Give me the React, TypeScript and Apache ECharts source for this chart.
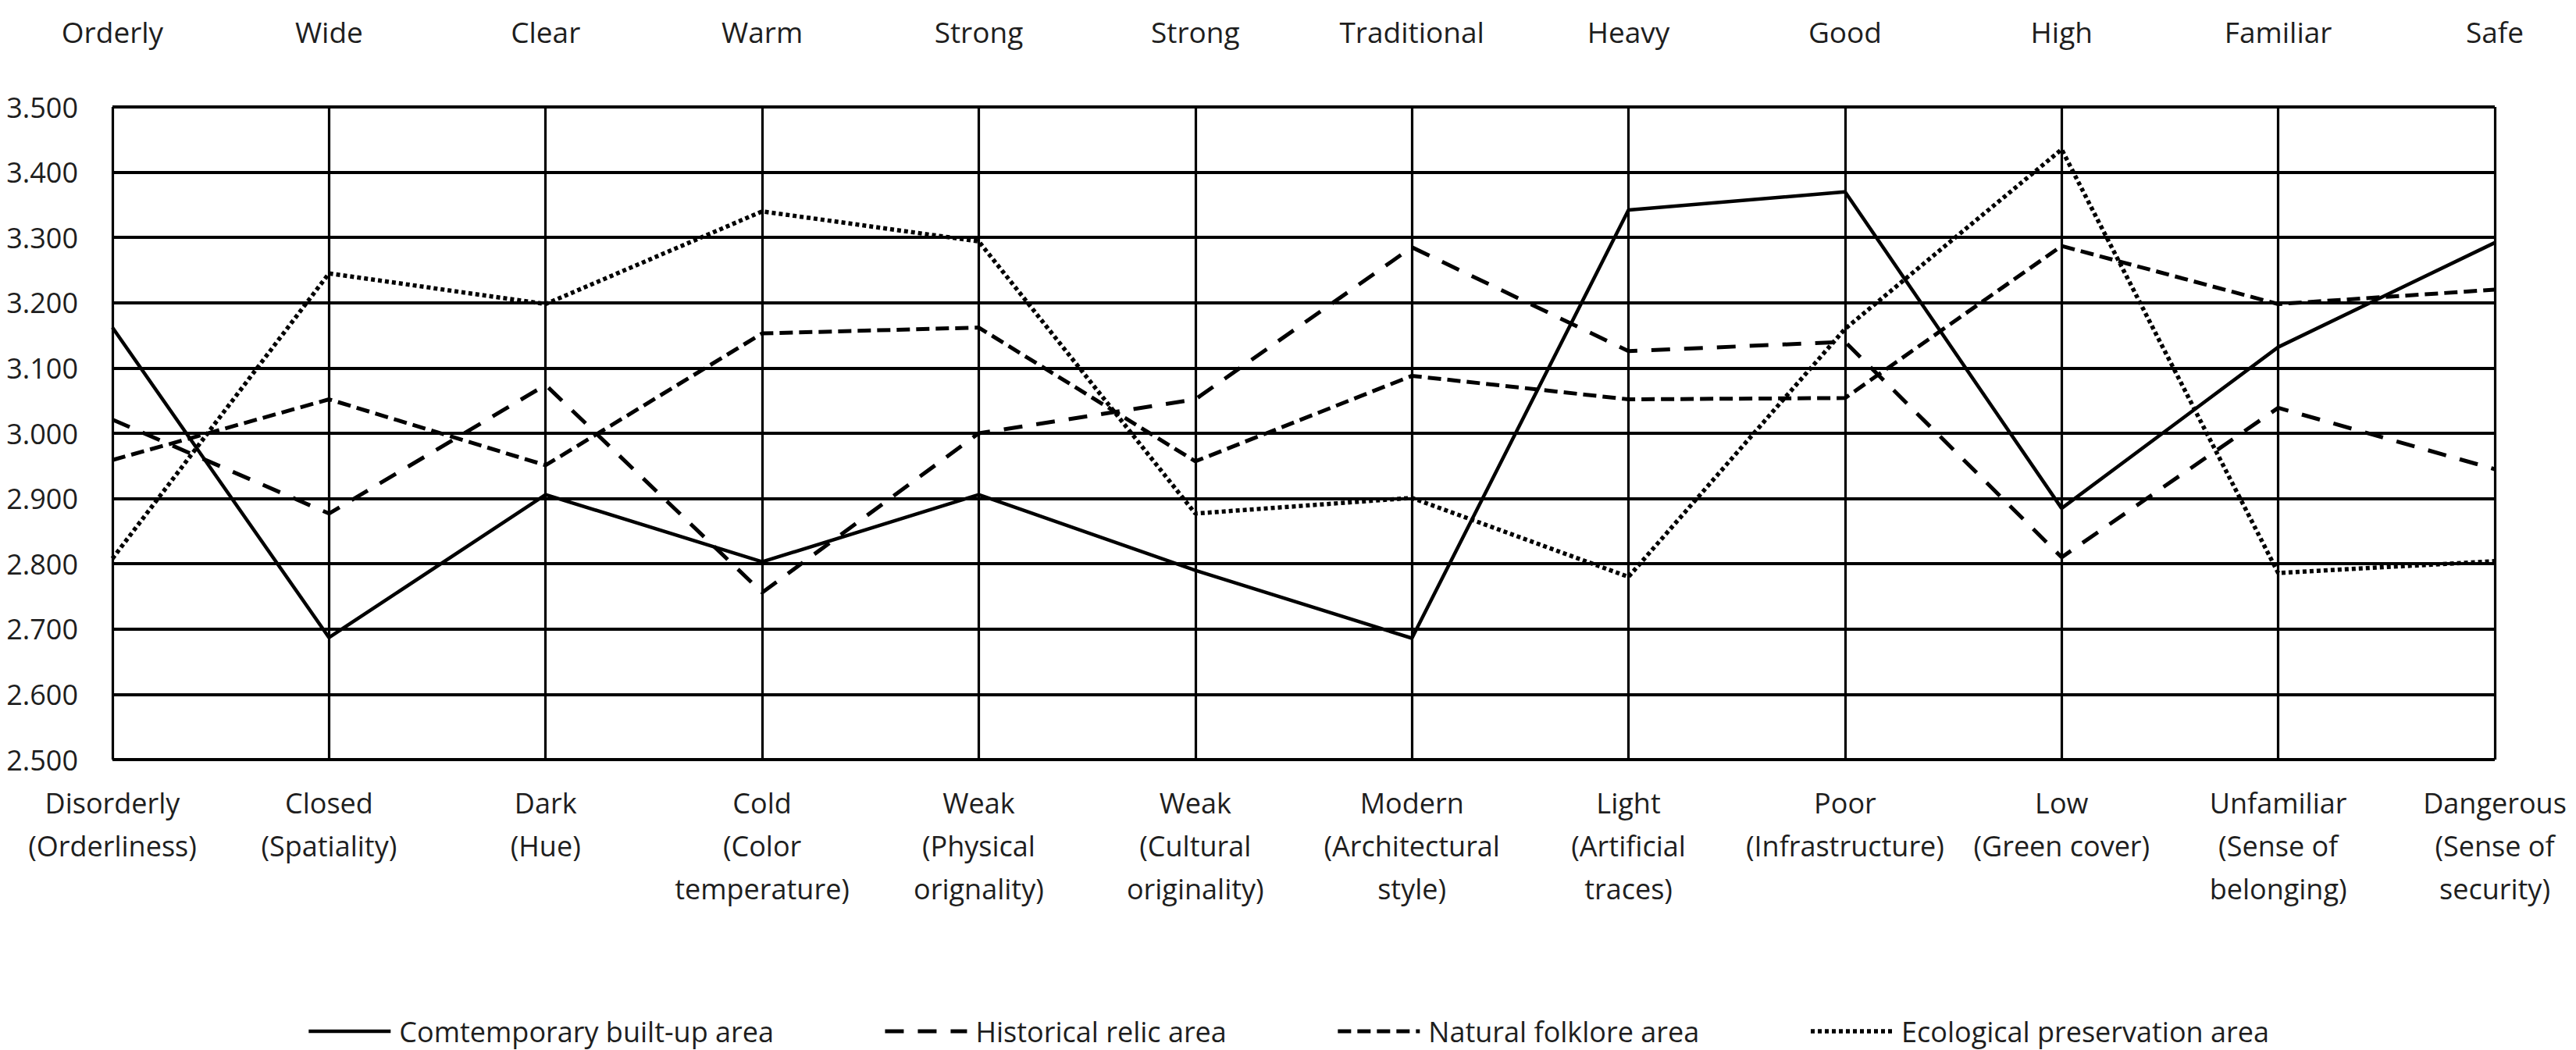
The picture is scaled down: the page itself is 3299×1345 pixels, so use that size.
import React, { useEffect, useRef } from "react";
import * as echarts from "echarts";

// Negative pole (bottom) labels, one array of lines per category
const lowPoles: string[][] = [
  ["Disorderly", "(Orderliness)"],
  ["Closed", "(Spatiality)"],
  ["Dark", "(Hue)"],
  ["Cold", "(Color", "temperature)"],
  ["Weak", "(Physical", "orignality)"],
  ["Weak", "(Cultural", "originality)"],
  ["Modern", "(Architectural", "style)"],
  ["Light", "(Artificial", "traces)"],
  ["Poor", "(Infrastructure)"],
  ["Low", "(Green cover)"],
  ["Unfamiliar", "(Sense of", "belonging)"],
  ["Dangerous", "(Sense of", "security)"],
];

// Positive pole (top) labels
const highPoles: string[] = [
  "Orderly", "Wide", "Clear", "Warm", "Strong", "Strong",
  "Traditional", "Heavy", "Good", "High", "Familiar", "Safe",
];

const yMin = 2.5;
const yMax = 3.5;
const yStep = 0.1;

const seriesNames = [
  "Comtemporary built-up area",
  "Historical relic area",
  "Natural folklore area",
  "Ecological preservation area",
];

const contemporary = [3.162, 2.687, 2.906, 2.803, 2.906, 2.790, 2.686, 3.342, 3.370, 2.885, 3.132, 3.292];
const historical = [3.021, 2.877, 3.074, 2.756, 3.000, 3.052, 3.285, 3.126, 3.140, 2.810, 3.039, 2.945];
const natural = [2.959, 3.052, 2.951, 3.153, 3.162, 2.957, 3.088, 3.052, 3.054, 3.287, 3.198, 3.220];
const ecological = [2.808, 3.245, 3.198, 3.340, 3.294, 2.877, 2.901, 2.780, 3.160, 3.435, 2.786, 2.804];

const FONT = "'Open Sans', sans-serif";
const TEXT = "#1e1e1e";

export default function App() {
  const ref = useRef<HTMLDivElement>(null);

  useEffect(() => {
    document.body.style.margin = "0";
    const chart = echarts.init(ref.current as HTMLDivElement, null, { renderer: "svg" });

    const lineStyles: any[] = [
      { color: "#000", width: 4.5, type: "solid" },
      { color: "#000", width: 5, type: [24, 18] },
      { color: "#000", width: 5, type: [17, 8] },
      { color: "#000", width: 5.5, type: [5, 4] },
    ];
    const values = [contemporary, historical, natural, ecological];

    chart.setOption({
      animation: false,
      backgroundColor: "#ffffff",
      grid: { left: 144, right: 104, top: 137, bottom: 372, containLabel: false },
      legend: {
        left: "center",
        top: 1298,
        itemWidth: 105,
        itemHeight: 20,
        itemGap: 140,
        data: seriesNames,
        itemStyle: { opacity: 0 },
        lineStyle: { width: "inherit" },
        textStyle: { fontFamily: FONT, fontSize: 36, color: TEXT, padding: [0, 0, 0, 6] },
      },
      xAxis: [
        {
          type: "category",
          position: "bottom",
          boundaryGap: false,
          data: lowPoles.map((l) => l.join("\n")),
          axisLine: { show: false },
          axisTick: { show: false },
          axisLabel: {
            interval: 0,
            hideOverlap: false,
            margin: 28,
            fontFamily: FONT,
            fontSize: 36,
            lineHeight: 55,
            color: TEXT,
            align: "center",
          },
          splitLine: { show: true, lineStyle: { color: "#000", width: 3.2 } },
        },
        {
          type: "category",
          position: "top",
          boundaryGap: false,
          data: highPoles,
          axisLine: { show: false },
          axisTick: { show: false },
          axisLabel: {
            interval: 0,
            hideOverlap: false,
            margin: 78,
            fontFamily: FONT,
            fontSize: 37,
            color: TEXT,
          },
          splitLine: { show: false },
        },
      ],
      yAxis: {
        type: "value",
        min: yMin,
        max: yMax,
        interval: yStep,
        axisLine: { show: false },
        axisTick: { show: false },
        axisLabel: {
          margin: 44,
          fontFamily: FONT,
          fontSize: 36,
          color: TEXT,
          formatter: (v: number) => v.toFixed(3),
        },
        splitLine: { show: true, lineStyle: { color: "#000", width: 4 } },
      },
      series: seriesNames.map((name, i) => ({
        name,
        type: "line",
        xAxisIndex: 0,
        data: values[i],
        symbol: "none",
        showSymbol: false,
        color: "#000",
        lineStyle: lineStyles[i],
        z: 3 + i,
      })),
    });

    return () => chart.dispose();
  }, []);

  return <div ref={ref} style={{ width: 3299, height: 1345 }} />;
}
